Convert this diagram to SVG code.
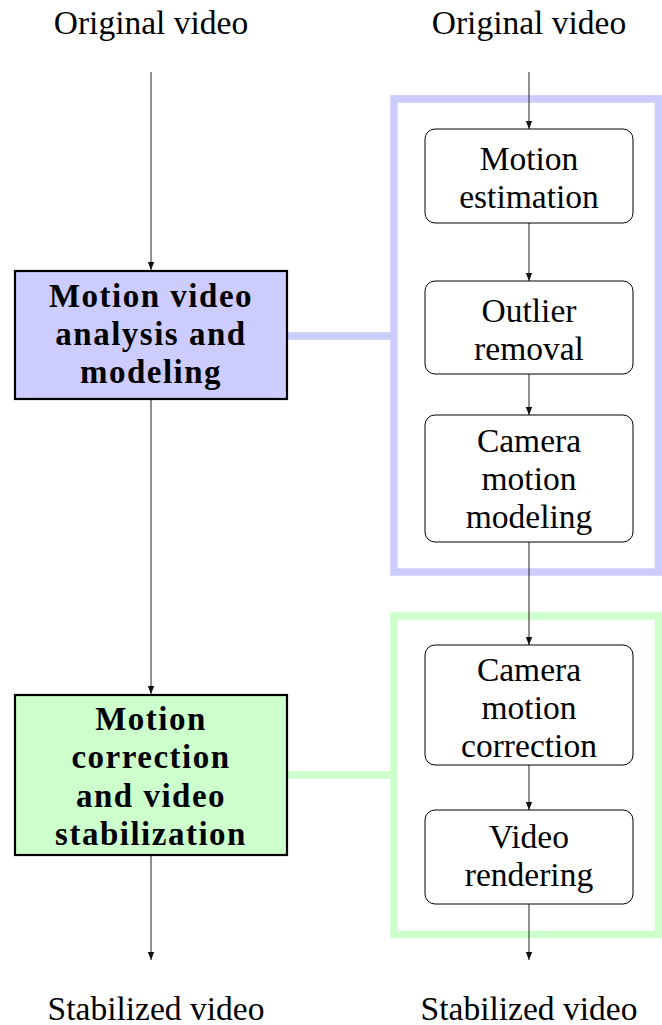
<svg xmlns="http://www.w3.org/2000/svg" width="662" height="1025" viewBox="0 0 662 1025">
  <style>
    .t { font-family: "Liberation Serif", "Times New Roman", serif; font-size: 33.5px; fill: #000; text-anchor: middle; }
    .b { font-weight: bold; font-size: 33px; letter-spacing: 1.5px; }
    .main { stroke: #000; stroke-width: 2.2; }
    .step { fill: #fff; stroke: #000; stroke-width: 1; }
    .edge { stroke: #222; stroke-width: 1; fill: none; marker-end: url(#arr); }
  </style>
  <defs>
    <marker id="arr" viewBox="0 0 10 10" refX="10" refY="5" markerWidth="8" markerHeight="8" markerUnits="userSpaceOnUse" orient="auto">
      <path d="M0,1 L10,5 L0,9 Z" fill="#111"/>
    </marker>
  </defs>

  <!-- stage frames and their links -->
  <g id="frames">
    <rect x="394" y="99" width="264.5" height="473" fill="none" stroke="#ccccff" stroke-width="7.5"/>
    <line x1="287" y1="336" x2="394" y2="336" stroke="#ccccff" stroke-width="7.5"/>
    <rect x="394" y="616" width="264.5" height="318.5" fill="none" stroke="#ccffcc" stroke-width="7.5"/>
    <line x1="287" y1="775" x2="394" y2="775" stroke="#ccffcc" stroke-width="7.5"/>
  </g>

  <!-- connectors -->
  <g id="connectors">
    <line class="edge" x1="151" y1="72" x2="151" y2="270"/>
    <line class="edge" x1="151" y1="400" x2="151" y2="694"/>
    <line class="edge" x1="151" y1="856" x2="151" y2="960"/>
    <line class="edge" x1="529" y1="72" x2="529" y2="129"/>
    <line class="edge" x1="529" y1="223" x2="529" y2="281"/>
    <line class="edge" x1="529" y1="374" x2="529" y2="415"/>
    <line class="edge" x1="529" y1="542" x2="529" y2="645"/>
    <line class="edge" x1="529" y1="765" x2="529" y2="810"/>
    <line class="edge" x1="529" y1="904" x2="529" y2="960"/>
  </g>

  <!-- inputs / outputs -->
  <g id="in-left"><text class="t" x="151" y="34">Original video</text></g>
  <g id="in-right"><text class="t" x="529" y="34">Original video</text></g>
  <g id="out-left"><text class="t" x="156" y="1020">Stabilized video</text></g>
  <g id="out-right"><text class="t" x="529" y="1020">Stabilized video</text></g>

  <!-- main stages -->
  <g id="analysis">
    <rect class="main" x="15" y="271" width="272" height="128" fill="#ccccff"/>
    <text class="t b" x="151" y="307">Motion video</text>
    <text class="t b" x="151" y="345">analysis and</text>
    <text class="t b" x="151" y="383">modeling</text>
  </g>
  <g id="correction">
    <rect class="main" x="15" y="695" width="272" height="160" fill="#ccffcc"/>
    <text class="t b" x="151" y="730">Motion</text>
    <text class="t b" x="151" y="768">correction</text>
    <text class="t b" x="151" y="807">and video</text>
    <text class="t b" x="151" y="845">stabilization</text>
  </g>

  <!-- detailed steps -->
  <g id="motion-estimation">
    <rect class="step" x="425" y="129" width="208" height="94" rx="10"/>
    <text class="t" x="529" y="170">Motion</text>
    <text class="t" x="529" y="208">estimation</text>
  </g>
  <g id="outlier-removal">
    <rect class="step" x="425" y="281" width="208" height="93" rx="10"/>
    <text class="t" x="529" y="322">Outlier</text>
    <text class="t" x="529" y="360">removal</text>
  </g>
  <g id="camera-modeling">
    <rect class="step" x="425" y="415" width="208" height="127" rx="10"/>
    <text class="t" x="529" y="452">Camera</text>
    <text class="t" x="529" y="490">motion</text>
    <text class="t" x="529" y="528">modeling</text>
  </g>
  <g id="camera-correction">
    <rect class="step" x="425" y="645" width="208" height="120" rx="10"/>
    <text class="t" x="529" y="681">Camera</text>
    <text class="t" x="529" y="719">motion</text>
    <text class="t" x="529" y="757">correction</text>
  </g>
  <g id="video-rendering">
    <rect class="step" x="425" y="810" width="208" height="94" rx="10"/>
    <text class="t" x="529" y="848">Video</text>
    <text class="t" x="529" y="886">rendering</text>
  </g>
</svg>
